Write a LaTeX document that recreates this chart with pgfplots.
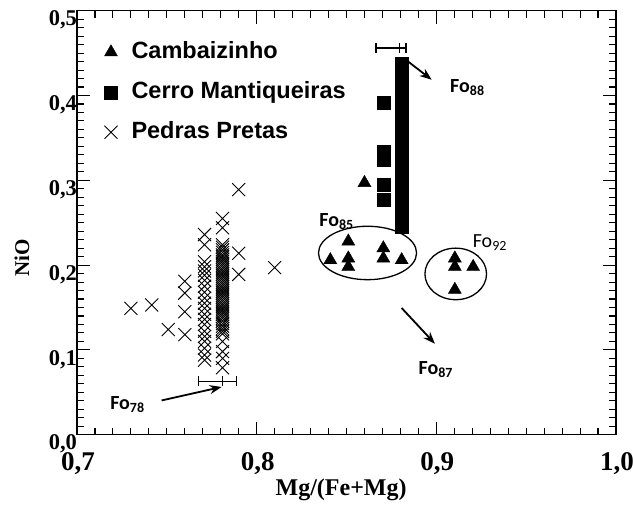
\documentclass[border=0pt]{standalone}
\usepackage{fontspec}
\setmainfont{Liberation Serif}
\newfontfamily\legfont{Liberation Sans}
\newfontfamily\fofont{Carlito}
\usepackage{pgfplots}
\pgfplotsset{compat=1.18}
\usetikzlibrary{arrows.meta}

\pgfplotstableread{
x y
0.860 0.297
0.851 0.228
0.841 0.206
0.851 0.208
0.851 0.198
0.8705 0.220
0.8705 0.208
0.8807 0.206
0.9103 0.208
0.9103 0.198
0.9205 0.198
0.9103 0.171
}\cambai

\pgfplotstableread{
x y
0.8705 0.392
0.8705 0.334
0.8705 0.329
0.8705 0.324
0.8705 0.295
0.8705 0.277
0.8805 0.2455
0.8805 0.255
0.8805 0.271
0.8805 0.279
0.8805 0.287
0.8805 0.295
0.8805 0.303
0.8805 0.311
0.8805 0.319
0.8805 0.327
0.8805 0.335
0.8805 0.343
0.8805 0.351
0.8805 0.359
0.8805 0.367
0.8805 0.375
0.8805 0.383
0.8805 0.391
0.8805 0.399
0.8805 0.407
0.8805 0.415
0.8805 0.431
0.8805 0.438
}\cerro

\pgfplotstableread{
x y
0.730 0.149
0.7416 0.153
0.7508 0.124
0.760 0.181
0.760 0.167
0.760 0.145
0.760 0.118
0.790 0.289
0.790 0.214
0.790 0.189
0.810 0.197
0.771 0.236
0.771 0.224
0.771 0.204
0.771 0.198
0.771 0.193
0.771 0.188
0.771 0.182
0.771 0.175
0.771 0.168
0.771 0.161
0.771 0.155
0.771 0.149
0.771 0.142
0.771 0.136
0.771 0.130
0.771 0.122
0.771 0.116
0.771 0.110
0.771 0.102
0.771 0.094
0.771 0.088
0.781 0.255
0.781 0.244
0.781 0.224
0.781 0.221
0.781 0.218
0.781 0.215
0.781 0.212
0.781 0.2095
0.781 0.207
0.781 0.2045
0.781 0.202
0.781 0.1995
0.781 0.197
0.781 0.1945
0.781 0.192
0.781 0.1895
0.781 0.187
0.781 0.1845
0.781 0.182
0.781 0.1795
0.781 0.177
0.781 0.1745
0.781 0.172
0.781 0.1695
0.781 0.167
0.781 0.1645
0.781 0.162
0.781 0.1595
0.781 0.157
0.781 0.1545
0.781 0.152
0.781 0.1495
0.781 0.147
0.781 0.1445
0.781 0.142
0.781 0.1395
0.781 0.137
0.781 0.134
0.781 0.131
0.781 0.128
0.781 0.125
0.781 0.122
0.781 0.119
0.781 0.110
0.781 0.098
0.781 0.090
0.781 0.079
}\pedras

\pgfplotstableread{
x y ep em
0.8797 0.456 0.0034 0.0133
0.7810 0.063 0.0078 0.0135
}\fobars

\begin{document}
\begin{tikzpicture}
\begin{axis}[
  name=ax,
  scale only axis, width=539pt, height=424pt,
  xmin=0.7, xmax=1.0, ymin=0, ymax=0.5,
  axis line style={line width=1.2pt},
  xtick={0.7,0.8,0.9,1.0},
  xticklabels={\textbf{0,7},\textbf{0,8},\textbf{0,9},\textbf{1,0}},
  ytick={0,0.1,0.2,0.3,0.4,0.5},
  yticklabels={\textbf{0,0},\textbf{0,1},\textbf{0,2},\textbf{0,3},\textbf{0,4},\textbf{0,5}},
  minor x tick num=9, minor y tick num=9,
  tick align=inside,
  major tick length=13pt, minor tick length=7pt,
  every tick/.style={line width=1.1pt, black},
  xticklabel style={font=\bfseries\fontsize{27}{27}\selectfont, yshift=-14pt, xshift=1pt},
  yticklabel style={font=\bfseries\fontsize{22.5}{22.5}\selectfont, yshift=-9.5pt, xshift=3.5pt},
  xlabel={Mg/(Fe+Mg)},
  ylabel={NiO},
  xlabel style={font=\bfseries\fontsize{24}{24}\selectfont, at={(rel axis cs:0.49,-0.13)}, anchor=center},
  ylabel style={font=\bfseries\fontsize{21}{21}\selectfont, at={(rel axis cs:-0.102,0.417)}, anchor=center},
  legend cell align=left,
  legend image code/.code={\draw[mark repeat=2,mark phase=2,#1] plot coordinates {(0pt,0pt) (8pt,0pt) (16pt,0pt)};},
  legend style={draw=none, fill=none, inner sep=0pt, outer sep=0pt,
    at={(axis cs:0.7153,0.4640)}, anchor=north west,
    font=\legfont\bfseries\fontsize{23.5}{23.5}\selectfont,
    row sep=18pt, column sep=14pt,
    nodes={inner sep=0pt, text height=17pt, text depth=5pt}},
]
\addplot[only marks, mark=triangle*, mark size=7.5pt, mark options={fill=black, draw=black}] table {\cambai};
\addlegendentry{Cambaizinho}
\addplot[only marks, mark=square*, mark size=6.5pt, mark options={fill=black, draw=black}] table {\cerro};
\addlegendentry{Cerro Mantiqueiras}
\addplot[only marks, mark=x, mark size=9.2pt, mark options={line width=0.9pt, black}] table {\pedras};
\addlegendentry{Pedras Pretas}

\addplot[forget plot, only marks, mark=|, mark size=5pt, mark options={line width=1.2pt, black},
  error bars/.cd, x dir=both, x explicit,
  error bar style={line width=1.2pt, black},
  error mark options={mark size=5pt, line width=1.2pt, black, rotate=90}]
  table[x=x, y=y, x error plus=ep, x error minus=em] {\fobars};

\draw[line width=1.3pt] (axis cs:0.8617,0.2143) ellipse [x radius=0.0273, y radius=0.0315];
\draw[line width=1.3pt] (axis cs:0.9108,0.1896) ellipse [x radius=0.01715, y radius=0.0304];

\draw[line width=1.8pt, -{Stealth[length=12pt, width=9pt]}] (axis cs:0.8842,0.4402) -- (axis cs:0.8974,0.4186);
\draw[line width=1.8pt, -{Stealth[length=12pt, width=9pt]}] (axis cs:0.8807,0.1494) -- (axis cs:0.8992,0.1073);
\draw[line width=1.8pt, -{Stealth[length=12pt, width=9pt]}] (axis cs:0.7471,0.0404) -- (axis cs:0.7805,0.0563);

\node[font=\fofont\bfseries\fontsize{20}{20}\selectfont] at (axis cs:0.9173,0.409) {Fo\textsubscript{88}};
\node[font=\fofont\bfseries\fontsize{20}{20}\selectfont] at (axis cs:0.8445,0.2515) {Fo\textsubscript{85}};
\node[font=\fofont\fontsize{20}{20}\selectfont] at (axis cs:0.9298,0.2264) {Fo\textsubscript{92}};
\node[font=\fofont\bfseries\fontsize{20}{20}\selectfont] at (axis cs:0.8997,0.0767) {Fo\textsubscript{87}};
\node[font=\fofont\bfseries\fontsize{20}{20}\selectfont] at (axis cs:0.7281,0.0354) {Fo\textsubscript{78}};
\end{axis}
\pgfresetboundingbox
\path[use as bounding box] ([shift={(-77pt,-70pt)}]ax.south west) rectangle ([shift={(17pt,10.7pt)}]ax.north east);
\end{tikzpicture}
\end{document}
